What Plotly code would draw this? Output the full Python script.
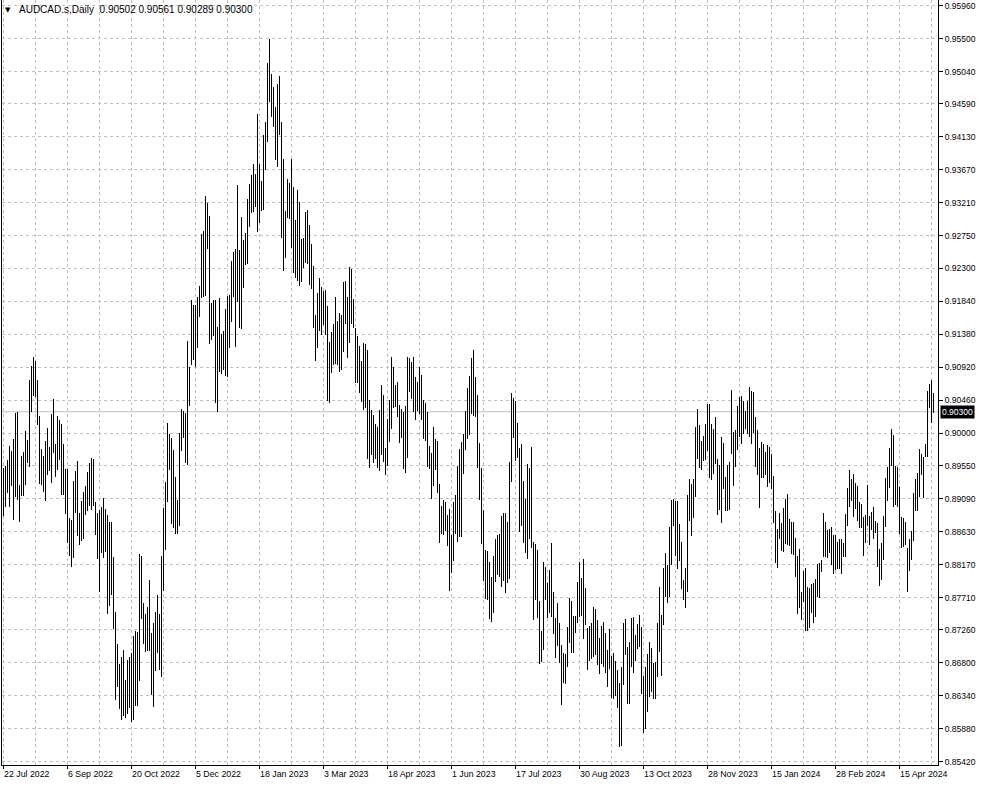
import plotly.graph_objects as go

symbol_title = "AUDCAD.s,Daily"
last_bar_ohlc = [0.90502, 0.90561, 0.90289, 0.90300]

highs = [
    0.89510, 0.89542, 0.89625, 0.89819, 0.89750, 0.89926, 0.90281, 0.90291, 0.89279, 0.89690,
    0.89736, 0.90027, 0.89903, 0.90743, 0.90942, 0.91058, 0.91011, 0.90743, 0.90244, 0.89787,
    0.89690, 0.89889, 0.90078, 0.89806, 0.90272, 0.90480, 0.89856, 0.90244, 0.90189, 0.90134,
    0.89847, 0.89501, 0.89501, 0.88822, 0.88794, 0.89330, 0.89473, 0.89607, 0.88886, 0.89057,
    0.89186, 0.89265, 0.89454, 0.89579, 0.89662, 0.89644, 0.89043, 0.88895, 0.88928, 0.88979,
    0.89103, 0.88942, 0.88854, 0.88766, 0.88766, 0.88276, 0.87509, 0.87057, 0.86784, 0.86886,
    0.86978, 0.86562, 0.86840, 0.86886, 0.86941, 0.87177, 0.87246, 0.87232, 0.88323, 0.88295,
    0.87630, 0.87477, 0.87579, 0.87953, 0.87209, 0.87352, 0.87505, 0.87740, 0.87486, 0.88286,
    0.88960, 0.89325, 0.90143, 0.89986, 0.89930, 0.89773, 0.89394, 0.89066, 0.90009, 0.90332,
    0.90305, 0.90286, 0.91286, 0.90929, 0.91858, 0.91788, 0.91788, 0.91904, 0.92053, 0.92778,
    0.92820, 0.93312, 0.93205, 0.93029, 0.91811, 0.91858, 0.91858, 0.91486, 0.91881, 0.91384,
    0.91426, 0.91728, 0.91918, 0.91927, 0.92406, 0.92531, 0.92569, 0.93461, 0.92555, 0.93010,
    0.92694, 0.92787, 0.93261, 0.93475, 0.93600, 0.93749, 0.93614, 0.94446, 0.93753, 0.93521,
    0.94157, 0.94343, 0.95166, 0.95491, 0.95008, 0.94831, 0.94552, 0.94868, 0.94980, 0.94343,
    0.93818, 0.93098, 0.93544, 0.93484, 0.93818, 0.93437, 0.92973, 0.93391, 0.93219, 0.92708,
    0.92727, 0.93089, 0.93112, 0.92903, 0.92638, 0.92332, 0.91649, 0.91951, 0.92160, 0.92044,
    0.91988, 0.91997, 0.91774, 0.91277, 0.91416, 0.91519, 0.91904, 0.91565, 0.91681, 0.91649,
    0.92104, 0.92127, 0.91904, 0.92313, 0.92285, 0.91867, 0.91463, 0.91356, 0.91217, 0.91012,
    0.91263, 0.91240, 0.91161, 0.90464, 0.90325, 0.90255, 0.90129, 0.90083, 0.90324, 0.90673,
    0.90533, 0.89790, 0.90194, 0.90464, 0.91058, 0.90919, 0.90673, 0.90719, 0.90394, 0.90334,
    0.90292, 0.90380, 0.91058, 0.91044, 0.90998, 0.91058, 0.90780, 0.90719, 0.90919, 0.90812,
    0.90464, 0.90427, 0.90301, 0.89823, 0.89720, 0.90092, 0.89916, 0.89892, 0.89293, 0.88986,
    0.89070, 0.89037, 0.88861, 0.88940, 0.88582, 0.89047, 0.89140, 0.89544, 0.89776, 0.89883,
    0.89990, 0.90310, 0.90626, 0.90798, 0.91044, 0.91161, 0.90780, 0.90533, 0.89860, 0.89511,
    0.88931, 0.88373, 0.88364, 0.88210, 0.88001, 0.88289, 0.88522, 0.88582, 0.88596, 0.88847,
    0.88893, 0.88893, 0.88768, 0.89604, 0.90566, 0.90487, 0.90454, 0.90148, 0.89790, 0.89850,
    0.89339, 0.89079, 0.89572, 0.89511, 0.89813, 0.88482, 0.88454, 0.88375, 0.87664, 0.87237,
    0.88210, 0.88141, 0.87918, 0.88094, 0.88475, 0.87792, 0.87421, 0.87630, 0.87351, 0.87049,
    0.86933, 0.86924, 0.87305, 0.87700, 0.87667, 0.87454, 0.87454, 0.87932, 0.88211, 0.87979,
    0.88243, 0.87839, 0.87282, 0.87314, 0.87361, 0.87574, 0.87547, 0.87398, 0.87142, 0.87314,
    0.87375, 0.87221, 0.86980, 0.87268, 0.86896, 0.86933, 0.86831, 0.86701, 0.86524, 0.86738,
    0.87352, 0.87407, 0.87026, 0.87096, 0.87421, 0.87435, 0.87189, 0.87342, 0.87468, 0.87305,
    0.86617, 0.86747, 0.86924, 0.87096, 0.87003, 0.86803, 0.86817, 0.87361, 0.87853, 0.87468,
    0.88118, 0.88336, 0.88165, 0.88699, 0.89070, 0.89080, 0.89061, 0.89061, 0.88736, 0.88490,
    0.87955, 0.88118, 0.89140, 0.89359, 0.89294, 0.89359, 0.90093, 0.90334, 0.90116, 0.89897,
    0.89962, 0.90130, 0.90408, 0.90408, 0.90130, 0.90055, 0.90223, 0.89637, 0.89558, 0.89944,
    0.89870, 0.89396, 0.89558, 0.89605, 0.90604, 0.90023, 0.90046, 0.90381, 0.90501, 0.90520,
    0.90455, 0.90316, 0.90455, 0.90641, 0.90594, 0.90580, 0.90223, 0.90046, 0.89791, 0.89884,
    0.89851, 0.89744, 0.89837, 0.89814, 0.89712, 0.89405, 0.88922, 0.88662, 0.88885, 0.88755,
    0.88954, 0.89080, 0.89154, 0.88801, 0.88769, 0.88769, 0.88536, 0.88290, 0.88383, 0.87793,
    0.88085, 0.88118, 0.87853, 0.87839, 0.87900, 0.87909, 0.87965, 0.88178, 0.88197, 0.88234,
    0.88885, 0.88769, 0.88652, 0.88662, 0.88699, 0.88583, 0.88583, 0.88490, 0.88522, 0.88522,
    0.88467, 0.88875, 0.89233, 0.89489, 0.89359, 0.89433, 0.89312, 0.89266, 0.89047, 0.89015,
    0.88829, 0.88861, 0.89280, 0.88847, 0.88908, 0.88968, 0.88782, 0.88755, 0.88383, 0.88476,
    0.88847, 0.89372, 0.89526, 0.89791, 0.90055, 0.89976, 0.89544, 0.89526, 0.89247, 0.88829,
    0.88815, 0.88769, 0.88397, 0.88522, 0.88643, 0.89163, 0.89359, 0.89452, 0.89777, 0.89712,
    0.89665, 0.89851, 0.90594, 0.90687, 0.90743, 0.90561,
]

lows = [
    0.88840, 0.88979, 0.89163, 0.88979, 0.89265, 0.88785, 0.89117, 0.89071, 0.88757, 0.89131,
    0.89131, 0.89284, 0.89579, 0.89524, 0.90295, 0.90517, 0.90512, 0.90110, 0.89293, 0.89284,
    0.89186, 0.89062, 0.89422, 0.89478, 0.89311, 0.89718, 0.89394, 0.89487, 0.89630, 0.89140,
    0.89140, 0.88877, 0.88475, 0.88286, 0.88133, 0.88258, 0.88891, 0.88572, 0.88438, 0.88493,
    0.88530, 0.88863, 0.88923, 0.88983, 0.88932, 0.88988, 0.88577, 0.88249, 0.87787, 0.88332,
    0.88258, 0.88341, 0.87486, 0.87593, 0.87740, 0.87278, 0.86281, 0.86461, 0.86156, 0.86008,
    0.86054, 0.86036, 0.86086, 0.86165, 0.85976, 0.85999, 0.86193, 0.86197, 0.86544, 0.87408,
    0.87057, 0.86955, 0.86960, 0.86969, 0.86345, 0.86179, 0.86692, 0.86941, 0.86706, 0.86609,
    0.87800, 0.88369, 0.89048, 0.89487, 0.88734, 0.88678, 0.88600, 0.88595, 0.88701, 0.89755,
    0.89935, 0.89579, 0.89556, 0.90378, 0.90952, 0.91021, 0.90919, 0.91184, 0.91616, 0.91881,
    0.91904, 0.91914, 0.92569, 0.91240, 0.91300, 0.91356, 0.90417, 0.90301, 0.90859, 0.90826,
    0.90882, 0.90803, 0.90789, 0.91184, 0.91546, 0.91904, 0.91207, 0.91835, 0.91472, 0.91449,
    0.92020, 0.92346, 0.92355, 0.92880, 0.93066, 0.93089, 0.93159, 0.92801, 0.92926, 0.93103,
    0.93112, 0.93670, 0.94055, 0.94613, 0.94413, 0.94264, 0.93809, 0.93716, 0.94157, 0.92717,
    0.92267, 0.92439, 0.92996, 0.92982, 0.92578, 0.92229, 0.92160, 0.92127, 0.92053, 0.92113,
    0.92300, 0.92369, 0.92360, 0.92067, 0.92006, 0.91472, 0.91012, 0.91193, 0.91430, 0.91370,
    0.91509, 0.91370, 0.90455, 0.90417, 0.90836, 0.90952, 0.90966, 0.90952, 0.90859, 0.90882,
    0.91138, 0.91519, 0.91045, 0.91254, 0.91523, 0.91463, 0.90706, 0.90706, 0.90557, 0.90441,
    0.90325, 0.90348, 0.89640, 0.89520, 0.89700, 0.89580, 0.89637, 0.89511, 0.89479, 0.89697,
    0.89604, 0.89418, 0.89544, 0.89883, 0.90055, 0.90348, 0.90371, 0.90222, 0.89860, 0.89929,
    0.89497, 0.89442, 0.89651, 0.90580, 0.90473, 0.90292, 0.90185, 0.90310, 0.90269, 0.90185,
    0.89920, 0.89897, 0.89525, 0.89502, 0.89079, 0.89265, 0.89488, 0.89172, 0.88468, 0.88596,
    0.88582, 0.88643, 0.88429, 0.87806, 0.88048, 0.88224, 0.88596, 0.88491, 0.88561, 0.88561,
    0.89432, 0.89767, 0.89920, 0.89976, 0.90269, 0.90241, 0.90222, 0.89511, 0.89070, 0.88454,
    0.87946, 0.87685, 0.87676, 0.87407, 0.87374, 0.87500, 0.87932, 0.88025, 0.88003, 0.87864,
    0.87934, 0.87771, 0.87910, 0.87971, 0.89325, 0.89929, 0.89618, 0.89651, 0.88621, 0.88714,
    0.88468, 0.88329, 0.88250, 0.88528, 0.88398, 0.87399, 0.87678, 0.87432, 0.86781, 0.86809,
    0.86981, 0.87676, 0.87421, 0.87500, 0.87444, 0.87202, 0.86863, 0.87035, 0.86803, 0.86213,
    0.86524, 0.86506, 0.86738, 0.87073, 0.86943, 0.86943, 0.87221, 0.87361, 0.87444, 0.87454,
    0.87128, 0.87328, 0.86701, 0.86831, 0.86850, 0.86878, 0.86910, 0.86771, 0.86645, 0.86785,
    0.86747, 0.86655, 0.86459, 0.86710, 0.86306, 0.86292, 0.86339, 0.86167, 0.85633, 0.85642,
    0.86492, 0.86910, 0.86227, 0.86227, 0.86747, 0.86664, 0.86831, 0.86989, 0.87017, 0.86366,
    0.85818, 0.85874, 0.86120, 0.86320, 0.86399, 0.86292, 0.86292, 0.86599, 0.86957, 0.86617,
    0.87328, 0.87714, 0.87640, 0.87714, 0.88165, 0.88708, 0.88290, 0.88104, 0.88225, 0.87825,
    0.87677, 0.87561, 0.87793, 0.88782, 0.88569, 0.88815, 0.89117, 0.89637, 0.89512, 0.89489,
    0.89619, 0.89628, 0.89758, 0.89373, 0.89349, 0.89433, 0.89572, 0.88861, 0.88931, 0.88755,
    0.89219, 0.88922, 0.88922, 0.88931, 0.89712, 0.89266, 0.89535, 0.89767, 0.89944, 0.89851,
    0.89990, 0.90055, 0.89990, 0.89944, 0.89851, 0.90000, 0.89526, 0.89419, 0.88954, 0.89372,
    0.89372, 0.89419, 0.89247, 0.89312, 0.89219, 0.88755, 0.88197, 0.88118, 0.88522, 0.88364,
    0.88350, 0.88457, 0.88443, 0.88429, 0.88318, 0.88304, 0.87993, 0.87482, 0.87561, 0.87398,
    0.87653, 0.87249, 0.87249, 0.87282, 0.87491, 0.87361, 0.87444, 0.87714, 0.87700, 0.88072,
    0.88281, 0.88281, 0.88257, 0.88327, 0.88165, 0.88039, 0.88095, 0.88104, 0.88104, 0.88039,
    0.88271, 0.88281, 0.88708, 0.88968, 0.89061, 0.88829, 0.88940, 0.88782, 0.88676, 0.88676,
    0.88290, 0.88476, 0.88708, 0.88443, 0.88652, 0.88522, 0.88615, 0.88141, 0.87872, 0.87955,
    0.88234, 0.88689, 0.89061, 0.89233, 0.89544, 0.88968, 0.89001, 0.88968, 0.88597, 0.88397,
    0.88411, 0.88443, 0.87793, 0.88086, 0.88234, 0.88504, 0.88922, 0.88922, 0.89108, 0.89419,
    0.89094, 0.89674, 0.89674, 0.90348, 0.90148, 0.90289,
]

date_labels = ["22 Jul 2022", "6 Sep 2022", "20 Oct 2022", "5 Dec 2022", "18 Jan 2023",
               "3 Mar 2023", "18 Apr 2023", "1 Jun 2023", "17 Jul 2023", "30 Aug 2023",
               "13 Oct 2023", "28 Nov 2023", "15 Jan 2024", "28 Feb 2024", "15 Apr 2024"]
date_label_bars = [0, 32, 64, 96, 128, 160, 192, 224, 256, 288, 320, 352, 384, 416, 448]

price_ticks = [0.95960, 0.95500, 0.95040, 0.94590, 0.94130, 0.93670, 0.93210, 0.92750,
               0.92300, 0.91840, 0.91380, 0.90920, 0.90460, 0.90000, 0.89550, 0.89090,
               0.88630, 0.88170, 0.87710, 0.87260, 0.86800, 0.86340, 0.85880, 0.85420]

n = len(highs)
idx = list(range(n))
ranges = [h - l for h, l in zip(highs, lows)]

FONT = "Liberation Sans, Arial, sans-serif"
GRID = "#c0c0c0"

fig = go.Figure()
fig.add_trace(go.Bar(x=idx, y=ranges, base=lows, width=0.5,
                     marker=dict(color="black", line=dict(width=0)),
                     hoverinfo="skip"))

last_close = last_bar_ohlc[3]
fig.add_shape(type="line", xref="paper", x0=0, x1=1, yref="y", y0=last_close, y1=last_close,
              line=dict(color="#c0c0c0", width=1), layer="below")

annotations = []
for b, t in zip(date_label_bars, date_labels):
    annotations.append(dict(x=b, xref="x", y=0, yref="paper", text=t, showarrow=False,
                            xanchor="left", yanchor="top", xshift=-2, yshift=-2,
                            font=dict(family=FONT, size=8.8, color="black")))
annotations.append(dict(x=0.00694, xref="paper", y=0.987, yref="paper", text="▼",
                        showarrow=False, xanchor="center", yanchor="middle",
                        font=dict(family="DejaVu Sans", size=7, color="black")))
annotations.append(dict(x=0.0165, xref="paper", y=0.987, yref="paper",
                        text=symbol_title + "  " + " ".join(f"{v:.5f}" for v in last_bar_ohlc),
                        showarrow=False, xanchor="left", yanchor="middle",
                        font=dict(family=FONT, size=10, color="black")))
annotations.append(dict(x=1, xref="paper", y=last_close, yref="y", text=f"{last_close:.5f}",
                        showarrow=False, xanchor="left", yanchor="middle", xshift=2,
                        bgcolor="black", borderpad=1,
                        font=dict(family=FONT, size=8.5, color="white")))

fig.update_layout(
    width=985, height=787,
    margin=dict(l=2, r=47, t=0, b=22),
    plot_bgcolor="white", paper_bgcolor="white",
    showlegend=False, bargap=0,
    annotations=annotations,
    xaxis=dict(range=[-0.75, 467.25], tickmode="array", tickvals=date_label_bars,
               showticklabels=False, ticks="outside", ticklen=3, tickcolor="black",
               showgrid=True, gridcolor=GRID, griddash="3px,3px", gridwidth=1,
               showline=True, linecolor="black", linewidth=1, zeroline=False,
               minor=dict(tickmode="array", tickvals=[b + 16 for b in date_label_bars],
                          showgrid=True, gridcolor=GRID, griddash="3px,3px", gridwidth=1,
                          ticks="")),
    yaxis=dict(range=[0.85376, 0.96039], side="right", tickmode="array", tickvals=price_ticks,
               tickformat=".5f", ticks="outside", ticklen=4, tickcolor="black",
               ticklabeloverflow="allow",
               tickfont=dict(family=FONT, size=8.5, color="black"),
               showgrid=True, gridcolor=GRID, griddash="3px,3px", gridwidth=1,
               showline=True, mirror=True, linecolor="black", linewidth=1, zeroline=False),
)

fig.write_html("out.html", config={"displayModeBar": False},
               post_script="document.body.style.margin='0px';document.body.style.overflow='hidden';")
